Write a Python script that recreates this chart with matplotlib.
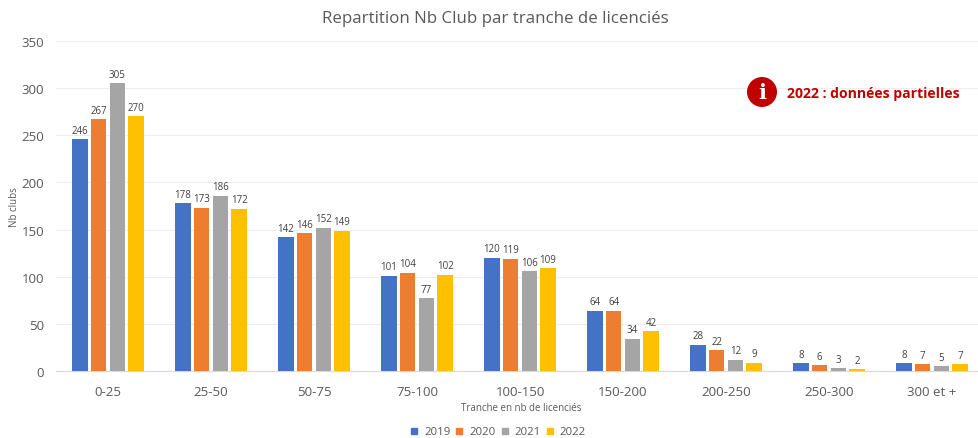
import matplotlib
matplotlib.use('Agg')
import matplotlib.pyplot as plt
import numpy as np
from matplotlib.patches import Circle
from matplotlib.lines import Line2D

categories = ['0-25', '25-50', '50-75', '75-100', '100-150', '150-200', '200-250', '250-300', '300 et +']
v2019 = [246, 178, 142, 101, 120, 64, 28, 8, 8]
v2020 = [267, 173, 146, 104, 119, 64, 22, 6, 7]
v2021 = [305, 186, 152, 77, 106, 34, 12, 3, 5]
v2022 = [270, 172, 149, 102, 109, 42, 9, 2, 7]
years = ['2019', '2020', '2021', '2022']
colors = ['#4472C4', '#ED7D31', '#A5A5A5', '#FFC000']

plt.rcParams['font.family'] = ['Open Sans', 'DejaVu Sans']
GREY = '#595959'

W, H = 979, 439
fig = plt.figure(figsize=(W / 100, H / 100), dpi=100)
# the plot runs past the right edge of the picture, as in the original crop
ax = fig.add_axes([56.5 / W, 1 - 372 / H, 927 / W, 330 / H])

x = np.arange(len(categories))
step = 0.1816
bar_w = 0.148
for i, vals in enumerate([v2019, v2020, v2021, v2022]):
    pos = x + (i - 1.5) * step
    ax.bar(pos, vals, bar_w, color=colors[i], zorder=3)
    for px, v in zip(pos, vals):
        ax.annotate(str(v), (px, v), xytext=(0, 2.5), textcoords='offset points',
                    ha='center', va='bottom', fontsize=7, color='#404040')

ax.set_xlim(-0.5, len(categories) - 0.5)
ax.set_ylim(0, 350)
ax.set_yticks(range(0, 351, 50))
ax.set_xticks(x)
ax.set_xticklabels(categories)
ax.tick_params(axis='both', length=0, labelsize=9.5, labelcolor=GREY)
ax.tick_params(axis='x', pad=10)
ax.tick_params(axis='y', pad=9)
ax.grid(True, axis='y', color='#EDEDED', linewidth=0.8, zorder=0)
for s in ['top', 'right', 'left']:
    ax.spines[s].set_visible(False)
ax.spines['bottom'].set_color('#D9D9D9')

fig.text(495 / W, 1 - 19 / H, 'Repartition Nb Club par tranche de licenciés',
         ha='center', va='center', fontsize=12.2, color=GREY)
fig.text(15 / W, 1 - 207 / H, 'Nb clubs', rotation=90, ha='center', va='center',
         fontsize=7, color=GREY)
fig.text(521 / W, 1 - 409 / H, 'Tranche en nb de licenciés', ha='center', va='center',
         fontsize=7, color=GREY)

# legend
handles = [Line2D([], [], marker='s', linestyle='none', markersize=5, color=c) for c in colors]
fig.legend(handles, years, loc='center', bbox_to_anchor=(497 / W, 1 - 433 / H), ncol=4,
           frameon=False, fontsize=8.2, labelcolor=GREY, handletextpad=0.35,
           handlelength=1.0, columnspacing=0.3, borderpad=0)

# info icon
fig.add_artist(Circle((762, H - 93), 15, transform=None, facecolor='#C00000', edgecolor='none', zorder=5))
fig.text(762 / W, 1 - 93 / H, 'i', ha='center', va='center', fontsize=15, color='white',
         family='DejaVu Serif', fontweight='bold', zorder=6)
fig.text(787 / W, 1 - 94 / H, '2022 : données partielles', ha='left', va='center',
         fontsize=10.1, fontweight='bold', color='#C00000', zorder=6)

plt.savefig('out.png', dpi=100)
plt.close()
